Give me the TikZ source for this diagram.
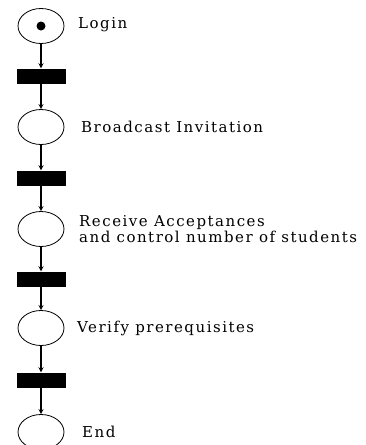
\documentclass[tikz,border=0pt]{standalone}
\usepackage{fontspec}
\setmainfont{Liberation Serif}
\newfontfamily\lblfont[LetterSpace=10]{DejaVu Serif}
\usepackage{tikz}
\usetikzlibrary{shapes,positioning}
\tikzset{place/.style={ellipse,draw,line width=0.8pt,minimum width=46pt,minimum height=35pt,inner sep=0pt},
         trans/.style={rectangle,fill=black,minimum width=49pt,minimum height=15pt,inner sep=0pt},
         txt/.style={anchor=west,inner sep=0pt,font=\lblfont\fontsize{15}{14.5}\selectfont,align=left}}

\begin{document}
\begin{tikzpicture}[>=stealth,x=1pt,y=-1pt]
    \useasboundingbox (0,0) rectangle (365,445);
    \node[place] (login) at (41,26) {};
    \fill (login.center) circle (4.5pt);
    \node[trans] (t1) at (41,76) {};
    \node[place] (bcast) at (41,127) {};
    \node[trans] (t2) at (41,178) {};
    \node[place] (recv) at (41,229) {};
    \node[trans] (t3) at (41,279) {};
    \node[place] (verify) at (41,328) {};
    \node[trans] (t4) at (41,380) {};
    \node[place] (fin) at (41,432) {};

    \node[txt] (l1) at (78,25) {Login};
    \node[txt] (l2) at (81,127) {Broadcast Invitation};
    \node[txt] (l3) at (79,229) {Receive Acceptances\\and control number of students};
    \node[txt] (l4) at (77,328) {Verify prerequisites};
    \node[txt] (l5) at (82,432) {End};

    \draw [->,line width=1.2pt] (login) to (t1);
    \draw [->,line width=1.2pt] (t1) to (bcast);
    \draw [->,line width=1.2pt] (bcast) to (t2);
    \draw [->,line width=1.2pt] (t2) to (recv);
    \draw [->,line width=1.2pt] (recv) to (t3);
    \draw [->,line width=1.2pt] (t3) to (verify);
    \draw [->,line width=1.2pt] (verify) to (t4);
    \draw [->,line width=1.2pt] (t4) to (fin);
\end{tikzpicture}
\end{document}
